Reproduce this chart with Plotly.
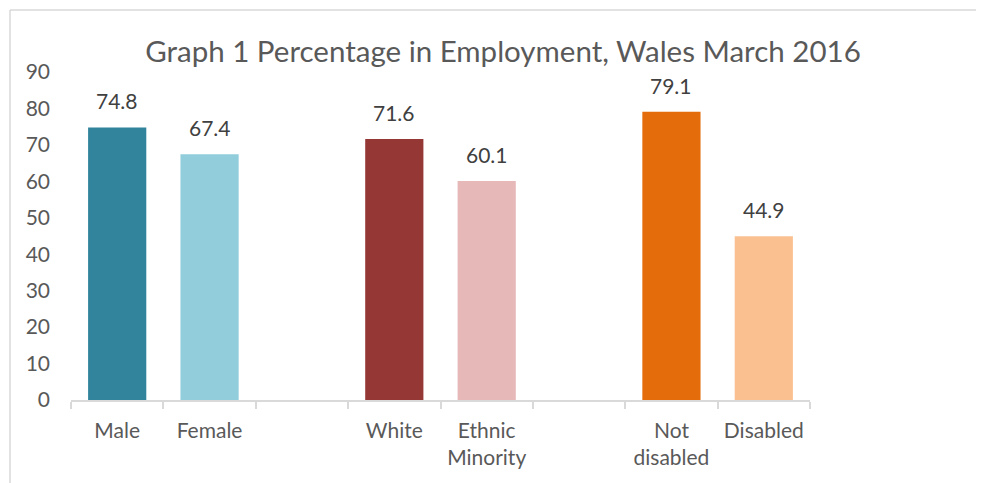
import plotly.graph_objects as go

categories = ["Male", "Female", " ", "White", "Ethnic<br>Minority", "  ", "Not<br>disabled", "Disabled"]
values = [74.8, 67.4, None, 71.6, 60.1, None, 79.1, 44.9]
colors = ["#31849B", "#92CDDC", "#FFFFFF", "#953735", "#E6B9B8", "#FFFFFF", "#E46C0A", "#FAC090"]
title_text = "Graph 1 Percentage in Employment, Wales March 2016"
y_ticks = list(range(0, 100, 10))

FONT = "Lato"
W, H = 976, 475          # page body has an 8px margin
L, R, T, B = 63, 174, 64, 83
PW, PH = W - L - R, H - T - B

fig = go.Figure()
fig.add_trace(go.Bar(
    x=categories,
    y=[v if v is not None else 0 for v in values],
    marker=dict(color=colors, line=dict(width=0)),
    width=0.63,
    hoverinfo="skip",
))

for c, v in zip(categories, values):
    if v is None:
        continue
    fig.add_annotation(
        x=c, y=v, text=f"{v:.1f}", showarrow=False,
        xref="x", yref="y", yanchor="bottom", yshift=12,
        font=dict(family=FONT, size=21, color="#404040"),
    )

# outer chart border (left and top edges visible)
bx = (2 - L) / PW
by = 1 + (T - 2) / PH
fig.add_shape(type="line", xref="paper", yref="paper",
              x0=bx, x1=bx, y0=1 + (T - H - 10) / PH, y1=by,
              line=dict(color="#D9D9D9", width=1.5))
fig.add_shape(type="line", xref="paper", yref="paper",
              x0=bx, x1=(W + 10 - L) / PW, y0=by, y1=by,
              line=dict(color="#D9D9D9", width=1.5))

fig.update_layout(
    width=W, height=H,
    margin=dict(l=L, r=R, t=T, b=B),
    paper_bgcolor="white", plot_bgcolor="white",
    showlegend=False,
    title=dict(text=title_text, x=495 / W, xanchor="center",
               y=1 - 44 / H, yanchor="middle",
               font=dict(family=FONT, size=29.5, color="#595959")),
    xaxis=dict(
        type="category",
        categoryorder="array", categoryarray=categories,
        showline=True, linecolor="#D9D9D9", linewidth=1.5,
        ticks="outside", tickson="boundaries", ticklen=7, tickcolor="#D9D9D9", tickwidth=1.5,
        ticklabelstandoff=11,
        showgrid=False, zeroline=False,
        tickfont=dict(family=FONT, size=21, color="#595959"),
        fixedrange=True,
    ),
    yaxis=dict(
        range=[0, 90],
        tickvals=y_ticks,
        showline=False, showgrid=False, zeroline=False,
        ticks="", ticklabelstandoff=20,
        tickfont=dict(family=FONT, size=21, color="#595959"),
        fixedrange=True,
    ),
    bargap=0.37,
)

fig.write_html("out.html")
